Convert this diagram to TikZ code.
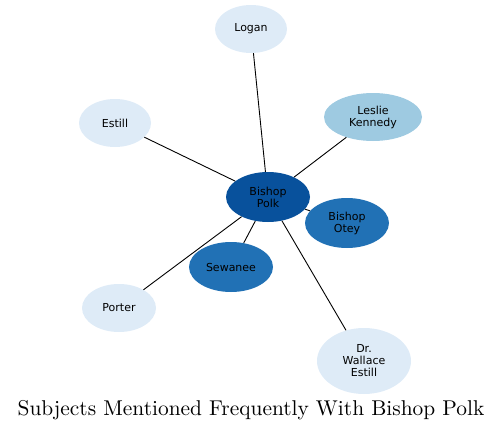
\documentclass[tikz,border=0pt]{standalone}
\usepackage{fontspec}
\newfontfamily\nodefont{DejaVu Sans}
\newfontfamily\titlefont{lmroman10-regular.otf}
\usetikzlibrary{shapes.geometric}
\definecolor{bluea}{HTML}{08519C}
\definecolor{blueb}{HTML}{2171B5}
\definecolor{bluec}{HTML}{9ECAE1}
\definecolor{blued}{HTML}{DEEBF7}
\tikzset{
  subj/.style={ellipse, fill=#1, draw=none, align=center, inner sep=0pt,
               font=\nodefont\fontsize{11}{12}\selectfont},
  subj/.default=blued,
  lnk/.style={line width=0.9pt, draw=black},
  ttl/.style={font=\titlefont\fontsize{21.4}{24}\selectfont, inner sep=0pt},
}

\begin{document}
\begin{tikzpicture}[x=1pt, y=-1pt]
    \useasboundingbox (0,0) rectangle (501,431);
    % outer ring
    \node[subj, minimum width=72pt, minimum height=48pt]        (logan)  at (251,29)  {Logan};
    \node[subj, minimum width=72pt, minimum height=48pt]        (estill) at (115,123) {Estill};
    \node[subj=bluec, minimum width=98pt, minimum height=48pt]  (leslie) at (373,117) {Leslie\\Kennedy};
    \node[subj=blueb, minimum width=84pt, minimum height=50pt]  (otey)   at (347,223) {Bishop\\Otey};
    \node[subj=blueb, minimum width=84pt, minimum height=50pt]  (sew)    at (231,267) {Sewanee};
    \node[subj, minimum width=74pt, minimum height=48pt]        (porter) at (119,308) {Porter};
    \node[subj, minimum width=94pt, minimum height=66pt]        (wall)   at (364,361) {Dr.\\Wallace\\Estill};
    % centre
    \node[subj=bluea, minimum width=84pt, minimum height=50pt]  (polk)   at (268,197) {Bishop\\Polk};

    \draw[lnk] (polk) -- (logan);
    \draw[lnk] (polk) -- (estill);
    \draw[lnk] (polk) -- (leslie);
    \draw[lnk] (polk) -- (otey);
    \draw[lnk] (polk) -- (sew);
    \draw[lnk] (polk) -- (porter);
    \draw[lnk] (polk) -- (wall);

    \node[ttl] (title) at (251,410) {Subjects Mentioned Frequently With Bishop Polk};
  \end{tikzpicture}
\end{document}
